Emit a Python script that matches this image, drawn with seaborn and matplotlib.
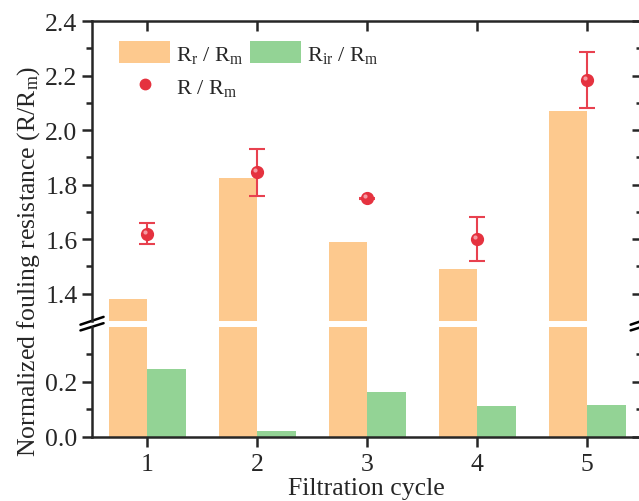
import pandas as pd
import seaborn as sns
import matplotlib.pyplot as plt
import matplotlib.transforms as mtransforms
from matplotlib.lines import Line2D
from matplotlib.patches import Patch

# data
cycles = ['1', '2', '3', '4', '5']
rr_rm = [1.38, 1.825, 1.59, 1.49, 2.07]      # reversible / membrane
rir_rm = [0.245, 0.022, 0.162, 0.111, 0.114]  # irreversible / membrane
r_rm = [1.62, 1.845, 1.75, 1.60, 2.183]       # total / membrane
r_err = [0.04, 0.086, 0.002, 0.08, 0.103]

orange = '#FDC98E'
green = '#93D395'
red = '#E5323F'

sns.set_style('ticks')
plt.rcParams['font.family'] = ['Liberation Serif', 'DejaVu Serif']
plt.rcParams['mathtext.fontset'] = 'custom'
plt.rcParams['mathtext.rm'] = 'Liberation Serif'
plt.rcParams['mathtext.it'] = 'Liberation Serif:italic'

df = pd.DataFrame({
    'cycle': cycles * 2,
    'value': rr_rm + rir_rm,
    'part': ['Rr'] * len(cycles) + ['Rir'] * len(cycles),
})

LW = 1.8

fig = plt.figure(figsize=(6.39, 5.02), dpi=100)
ax_top = fig.add_axes([0.144, 0.359, 0.861, 0.597])
ax_bot = fig.add_axes([0.144, 0.128, 0.861, 0.219])

for ax in (ax_top, ax_bot):
    sns.barplot(data=df, x='cycle', y='value', hue='part', order=cycles,
                palette=[orange, green], width=0.7, saturation=1,
                errorbar=None, legend=False, linewidth=0, ax=ax)
    ax.set_xlim(-0.5, 4.5)
    ax.set_xlabel('')
    ax.set_ylabel('')
    for sp in ax.spines.values():
        sp.set_linewidth(LW)
        sp.set_visible(True)

# total resistance with error bars (upper panel only)
xpos = list(range(len(cycles)))
ax_top.errorbar(xpos, r_rm, yerr=r_err, fmt='o', color=red,
                ms=8.5, mec=red, ecolor='#E8414F', elinewidth=1.5, capsize=5.5,
                capthick=1.5, zorder=5)
# small highlight to give the dots their glossy look
shine = mtransforms.offset_copy(ax_top.transData, fig=fig, x=-1.5, y=1.5, units='points')
ax_top.plot(xpos, r_rm, ls='none', marker='o', ms=3, color='#F49AA2',
            mec='none', transform=shine, zorder=6)

ax_top.set_ylim(1.3, 2.4)
ax_bot.set_ylim(0, 0.4)
ax_top.spines['bottom'].set_visible(False)
ax_bot.spines['top'].set_visible(False)

ax_top.set_yticks([1.4, 1.6, 1.8, 2.0, 2.2, 2.4])
ax_top.set_yticks([1.5, 1.7, 1.9, 2.1, 2.3], minor=True)
ax_bot.set_yticks([0.0, 0.2])
ax_bot.set_yticks([0.1, 0.3], minor=True)
ax_top.yaxis.set_major_formatter('{x:.1f}')
ax_bot.yaxis.set_major_formatter('{x:.1f}')

for ax in (ax_top, ax_bot):
    ax.tick_params(axis='y', which='major', direction='out', length=7, width=LW,
                   labelsize=18.5, left=True, right=False)
    ax.tick_params(axis='y', which='minor', direction='out', length=4, width=LW,
                   left=True, right=False)
    sec = ax.secondary_yaxis('right')
    sec.set_yticks(ax.get_yticks())
    sec.set_yticks(ax.get_yticks(minor=True), minor=True)
    sec.tick_params(which='major', direction='in', length=7, width=LW, labelright=False)
    sec.tick_params(which='minor', direction='in', length=4, width=LW)
    sec.spines['right'].set_linewidth(LW)

ax_top.tick_params(axis='x', which='both', bottom=False, labelbottom=False,
                   top=True, direction='in', length=7, width=LW)
ax_bot.tick_params(axis='x', which='both', bottom=True, top=False,
                   direction='out', length=7, width=LW, labelsize=18.5, pad=5)

# axis break marks
for xs in (0, 1):
    ax_top.plot([xs - 0.021, xs + 0.021], [-0.013, 0.013],
                transform=ax_top.transAxes, color='k', lw=LW, clip_on=False)
    ax_bot.plot([xs - 0.021, xs + 0.021], [1.0 - 0.033, 1.0 + 0.033],
                transform=ax_bot.transAxes, color='k', lw=LW, clip_on=False)

handles = [
    Patch(facecolor=orange, edgecolor='none'),
    Line2D([], [], ls='none', marker='o', color=red, ms=7.5),
    Patch(facecolor=green, edgecolor='none'),
]
labels = [r'R$_\mathrm{r}$ / R$_\mathrm{m}$', r'R / R$_\mathrm{m}$',
          r'R$_\mathrm{ir}$ / R$_\mathrm{m}$']
ax_top.legend(handles, labels, ncol=2, loc='upper left', frameon=False,
              bbox_to_anchor=(0.033, 0.962), borderaxespad=0, fontsize=16,
              handlelength=2.3, handleheight=1.1, handletextpad=0.28,
              columnspacing=0.3, labelspacing=0.45)

fig.text(0.045, 0.48, r'Normalized fouling resistance (R/R$_\mathrm{m}$)',
         rotation=90, ha='center', va='center', fontsize=18.5)
fig.text(0.574, 0.026, 'Filtration cycle', ha='center', va='center', fontsize=18.5)

fig.savefig('out.png', dpi=100)
